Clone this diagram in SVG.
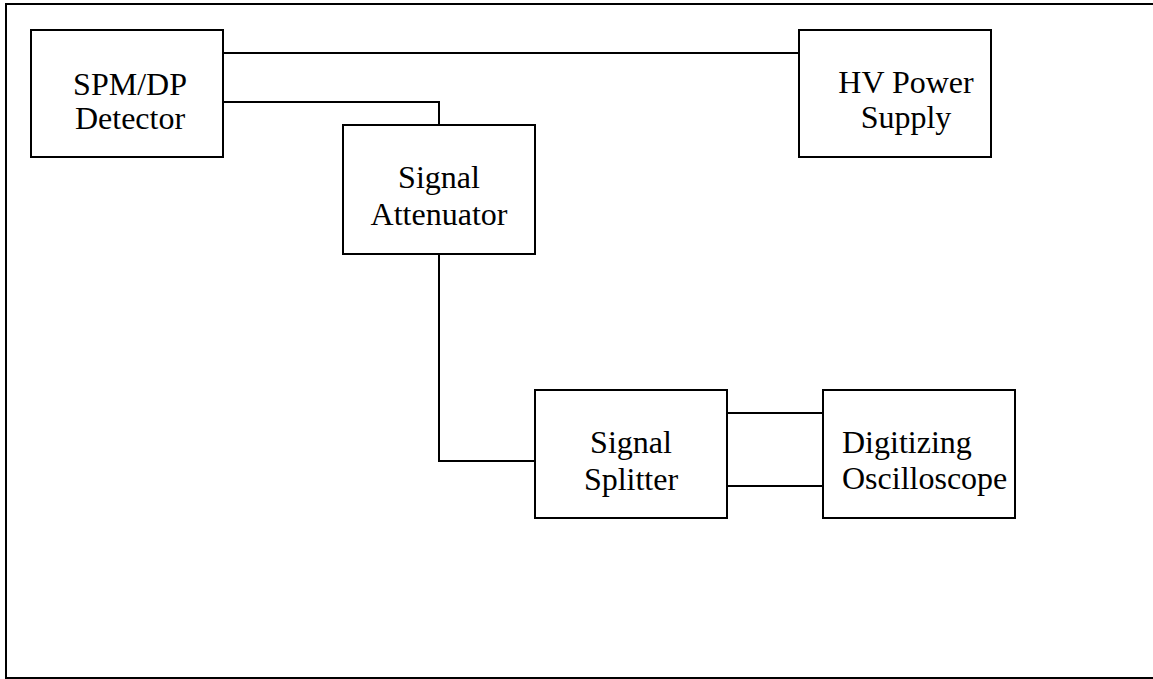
<svg xmlns="http://www.w3.org/2000/svg" width="1153" height="679" viewBox="0 0 1153 679">
<style>
.box{fill:#fff;stroke:#000;stroke-width:2}
.ln{fill:none;stroke:#000;stroke-width:2}
text{font-family:"Liberation Serif","Times New Roman",serif;font-size:32px;fill:#000}
.c{text-anchor:middle}
</style>
<rect width="1153" height="679" fill="#fff"/>
<path class="ln" d="M1153,4 H6 V678 H1153"/>
<g id="connectors">
<path class="ln" d="M223,53 H799"/>
<path class="ln" d="M223,102 H439 V125"/>
<path class="ln" d="M439,254 V461 H535"/>
<path class="ln" d="M727,413 H823"/>
<path class="ln" d="M727,486 H823"/>
</g>
<g id="spm">
<rect class="box" x="31" y="30" width="192" height="127"/>
<text class="c" x="130" y="95">SPM/DP</text>
<text class="c" x="130" y="129">Detector</text>
</g>
<g id="hv">
<rect class="box" x="799" y="30" width="192" height="127"/>
<text class="c" x="906" y="93">HV Power</text>
<text class="c" x="906" y="128">Supply</text>
</g>
<g id="attenuator">
<rect class="box" x="343" y="125" width="192" height="129"/>
<text class="c" x="439" y="188">Signal</text>
<text class="c" x="439" y="225">Attenuator</text>
</g>
<g id="splitter">
<rect class="box" x="535" y="390" width="192" height="128"/>
<text class="c" x="631" y="453">Signal</text>
<text class="c" x="631" y="490">Splitter</text>
</g>
<g id="oscilloscope">
<rect class="box" x="823" y="390" width="192" height="128"/>
<text x="842" y="453">Digitizing</text>
<text x="842" y="489">Oscilloscope</text>
</g>
</svg>
